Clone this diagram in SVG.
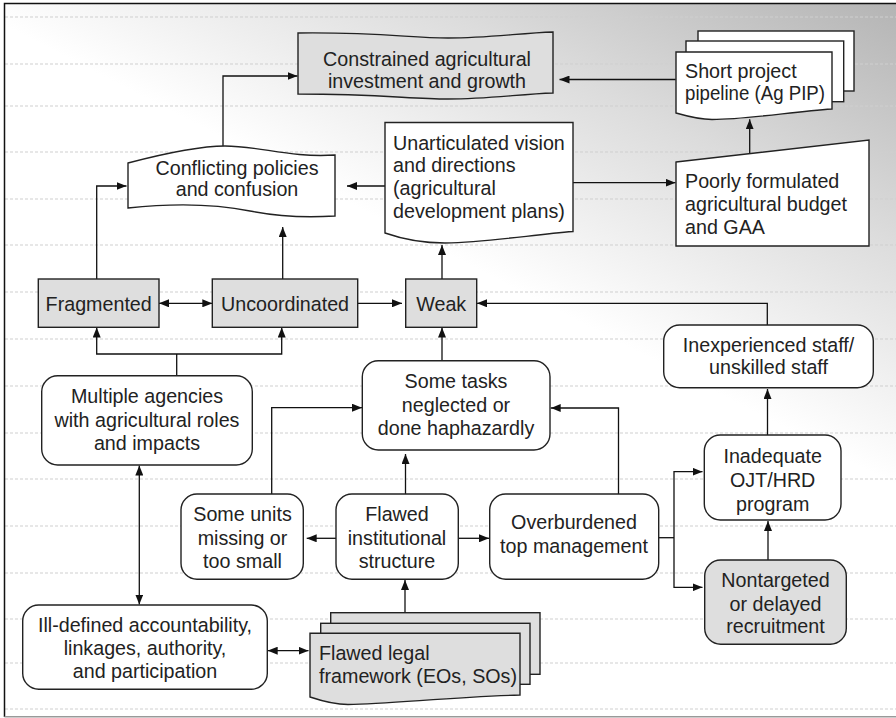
<svg xmlns="http://www.w3.org/2000/svg" width="896" height="718" viewBox="0 0 896 718">
<defs>
<linearGradient id="bg" gradientUnits="userSpaceOnUse" x1="440" y1="250" x2="637" y2="-132">
<stop offset="0" stop-color="#ffffff"/>
<stop offset="0.5" stop-color="#dcdcdc"/>
<stop offset="1" stop-color="#b4b4b4"/>
</linearGradient>
<marker id="ah" markerUnits="userSpaceOnUse" markerWidth="10" markerHeight="8" refX="10" refY="4" orient="auto-start-reverse">
<path d="M0,0 L10,4 L0,8 z" fill="#111"/>
</marker>
<style>
.n{fill:#fff;stroke:#222;stroke-width:1.4}
.g{fill:#dedede;stroke:#222;stroke-width:1.4}
.t{font-family:"Liberation Sans",Arial,sans-serif;font-size:19.7px;fill:#222;text-anchor:middle}
.l{text-anchor:start}
.c{fill:none;stroke:#111;stroke-width:1.3}
.d{stroke:#cfcfcf;stroke-width:1;stroke-dasharray:3 2}
</style>
</defs>
<rect x="0" y="0" width="896" height="718" fill="#fff"/>
<rect x="4.5" y="3.5" width="892" height="713" fill="url(#bg)"/>
<g id="gridlines">
<line class="d" x1="5" y1="17" x2="896" y2="17"/>
<line class="d" x1="5" y1="64" x2="896" y2="64"/>
<line class="d" x1="5" y1="106" x2="896" y2="106"/>
<line class="d" x1="5" y1="152" x2="896" y2="152"/>
<line class="d" x1="5" y1="199" x2="896" y2="199"/>
<line class="d" x1="5" y1="245" x2="896" y2="245"/>
<line class="d" x1="5" y1="292" x2="896" y2="292"/>
<line class="d" x1="5" y1="339" x2="896" y2="339"/>
<line class="d" x1="5" y1="386" x2="896" y2="386"/>
<line class="d" x1="5" y1="433" x2="896" y2="433"/>
<line class="d" x1="5" y1="479" x2="896" y2="479"/>
<line class="d" x1="5" y1="526" x2="896" y2="526"/>
<line class="d" x1="5" y1="573" x2="896" y2="573"/>
<line class="d" x1="5" y1="619" x2="896" y2="619"/>
<line class="d" x1="5" y1="663" x2="896" y2="663"/>
<line class="d" x1="5" y1="709" x2="896" y2="709"/>
</g>
<path d="M896,3.5 H4.5 V717" fill="none" stroke="#111" stroke-width="1.5"/>
<line x1="4.5" y1="716.8" x2="896" y2="716.8" stroke="#999" stroke-width="1.5"/>

<g id="connectors">
<path class="c" d="M223,147 V76 H297.5" marker-end="url(#ah)"/>
<path class="c" d="M675.7,79.5 H559.5" marker-end="url(#ah)"/>
<path class="c" d="M385,186 H347" marker-end="url(#ah)"/>
<path class="c" d="M573,182.7 H675.5" marker-end="url(#ah)"/>
<path class="c" d="M749.7,153 V119.3" marker-end="url(#ah)"/>
<path class="c" d="M96.7,279 V186 H126.5" marker-end="url(#ah)"/>
<path class="c" d="M282.7,279 V227" marker-end="url(#ah)"/>
<path class="c" d="M442,279.3 V245" marker-end="url(#ah)"/>
<path class="c" d="M159,303.3 H212.3" marker-start="url(#ah)" marker-end="url(#ah)"/>
<path class="c" d="M357.7,303.3 H402" marker-end="url(#ah)"/>
<path class="c" d="M767.3,325 V303.3 H477" marker-end="url(#ah)"/>
<path class="c" d="M176.7,375.7 V354"/>
<path class="c" d="M96.7,327.5 V354 H281.7 V327.5" marker-start="url(#ah)" marker-end="url(#ah)"/>
<path class="c" d="M442,360.7 V327.5" marker-end="url(#ah)"/>
<path class="c" d="M271.7,494 V407.7 H362" marker-end="url(#ah)"/>
<path class="c" d="M618.5,494 V408 H550.7" marker-end="url(#ah)"/>
<path class="c" d="M405.5,494 V454" marker-end="url(#ah)"/>
<path class="c" d="M336,538.3 H306.7" marker-end="url(#ah)"/>
<path class="c" d="M458.3,538.3 H489" marker-end="url(#ah)"/>
<path class="c" d="M658.7,537.7 H674"/>
<path class="c" d="M702.5,471.7 H674 V587.3 H702.5" marker-start="url(#ah)" marker-end="url(#ah)"/>
<path class="c" d="M767.5,435 V389" marker-end="url(#ah)"/>
<path class="c" d="M768,560 V521" marker-end="url(#ah)"/>
<path class="c" d="M139.3,465.5 V604.5" marker-start="url(#ah)" marker-end="url(#ah)"/>
<path class="c" d="M267.7,650.7 H308.5" marker-start="url(#ah)" marker-end="url(#ah)"/>
<path class="c" d="M405,612.7 V580" marker-end="url(#ah)"/>
</g>

<g id="constrained">
<path class="g" d="M298,33 C380,32 410,38 448,38 C490,38 520,33 553,32 L553,93 C520,94 490,99 448,99 C410,99 380,94 298,94 Z"/>
<text class="t" x="427" y="66">Constrained agricultural</text>
<text class="t" x="427" y="88">investment and growth</text>
</g>

<g id="short-pipeline">
<rect class="n" x="698" y="31" width="156" height="60"/>
<rect class="n" x="686" y="41" width="157.7" height="60.7"/>
<path class="n" d="M676,52 H832 V109 C790,112 750,119 712,119.5 C700,119.5 690,117 676,113 Z"/>
<text class="t l" x="685" y="78">Short project</text>
<text class="t l" x="685" y="100" textLength="140" lengthAdjust="spacingAndGlyphs">pipeline (Ag PIP)</text>
</g>

<g id="conflicting">
<path class="n" d="M128,163 C170,152 200,146 225,146 C260,146 290,158 335,155 L335,216 C305,218 280,217 250,211 C215,204 175,203 128,208 Z"/>
<text class="t" x="237" y="175">Conflicting policies</text>
<text class="t" x="237" y="196">and confusion</text>
</g>

<g id="unarticulated">
<path class="n" d="M385,122.5 H573 V231.5 C530,235 490,242 445,243 C425,243 405,240 385,233 Z"/>
<text class="t l" x="393" y="150">Unarticulated vision</text>
<text class="t l" x="393" y="172">and directions</text>
<text class="t l" x="393" y="195">(agricultural</text>
<text class="t l" x="393" y="218">development plans)</text>
</g>

<g id="poorly">
<path class="n" d="M676,162 L869,140 V246 H676 Z"/>
<text class="t l" x="685" y="188">Poorly formulated</text>
<text class="t l" x="685" y="211">agricultural budget</text>
<text class="t l" x="685" y="234">and GAA</text>
</g>

<g id="fragmented">
<rect class="g" x="38.3" y="279" width="120.7" height="48.3"/>
<text class="t" x="98.7" y="310.5">Fragmented</text>
</g>
<g id="uncoordinated">
<rect class="g" x="212.3" y="279" width="145.4" height="48.3"/>
<text class="t" x="285" y="310.5">Uncoordinated</text>
</g>
<g id="weak">
<rect class="g" x="405.7" y="279" width="71" height="48.3"/>
<text class="t" x="441.2" y="310.5">Weak</text>
</g>

<g id="multiple">
<rect class="n" x="41.7" y="375.7" width="210.6" height="89.3" rx="16"/>
<text class="t" x="147" y="403">Multiple agencies</text>
<text class="t" x="147" y="426.5">with agricultural roles</text>
<text class="t" x="147" y="450">and impacts</text>
</g>

<g id="some-tasks">
<rect class="n" x="362.3" y="360.7" width="187.7" height="89.3" rx="16"/>
<text class="t" x="456" y="388">Some tasks</text>
<text class="t" x="456" y="411.5">neglected or</text>
<text class="t" x="456" y="435">done haphazardly</text>
</g>

<g id="inexperienced">
<rect class="n" x="663.7" y="325" width="209.6" height="62.7" rx="16"/>
<text class="t" x="768.5" y="351.5">Inexperienced staff/</text>
<text class="t" x="768.5" y="374">unskilled staff</text>
</g>

<g id="inadequate">
<rect class="n" x="704.3" y="435" width="136.7" height="85" rx="16"/>
<text class="t" x="772.7" y="462.5">Inadequate</text>
<text class="t" x="772.7" y="486.5">OJT/HRD</text>
<text class="t" x="772.7" y="511">program</text>
</g>

<g id="some-units">
<rect class="n" x="181" y="494" width="122.3" height="85.3" rx="16"/>
<text class="t" x="242.5" y="521">Some units</text>
<text class="t" x="242.5" y="545">missing or</text>
<text class="t" x="242.5" y="568">too small</text>
</g>

<g id="flawed-institutional">
<rect class="n" x="336" y="494" width="122.3" height="85.3" rx="16"/>
<text class="t" x="397" y="521">Flawed</text>
<text class="t" x="397" y="545">institutional</text>
<text class="t" x="397" y="568">structure</text>
</g>

<g id="overburdened">
<rect class="n" x="489.7" y="494" width="169" height="85.3" rx="16"/>
<text class="t" x="574" y="529">Overburdened</text>
<text class="t" x="574" y="553">top management</text>
</g>

<g id="nontargeted">
<rect class="g" x="704.7" y="560" width="141.6" height="84.3" rx="16"/>
<text class="t" x="775.5" y="586.5">Nontargeted</text>
<text class="t" x="775.5" y="610.5">or delayed</text>
<text class="t" x="775.5" y="633">recruitment</text>
</g>

<g id="ill-defined">
<rect class="n" x="22.7" y="605" width="244.6" height="84.3" rx="16"/>
<text class="t" x="145" y="631.5">Ill-defined accountability,</text>
<text class="t" x="145" y="655">linkages, authority,</text>
<text class="t" x="145" y="678">and participation</text>
</g>

<g id="flawed-legal">
<rect class="g" x="330.7" y="612.7" width="209.3" height="61.6"/>
<rect class="g" x="320.7" y="623.3" width="209.3" height="61"/>
<path class="g" d="M310,633.3 H520 V695 C450,697 390,704 348,704.5 C335,704.5 325,702 310,697 Z"/>
<text class="t l" x="319" y="660">Flawed legal</text>
<text class="t l" x="319" y="683">framework (EOs, SOs)</text>
</g>
</svg>
